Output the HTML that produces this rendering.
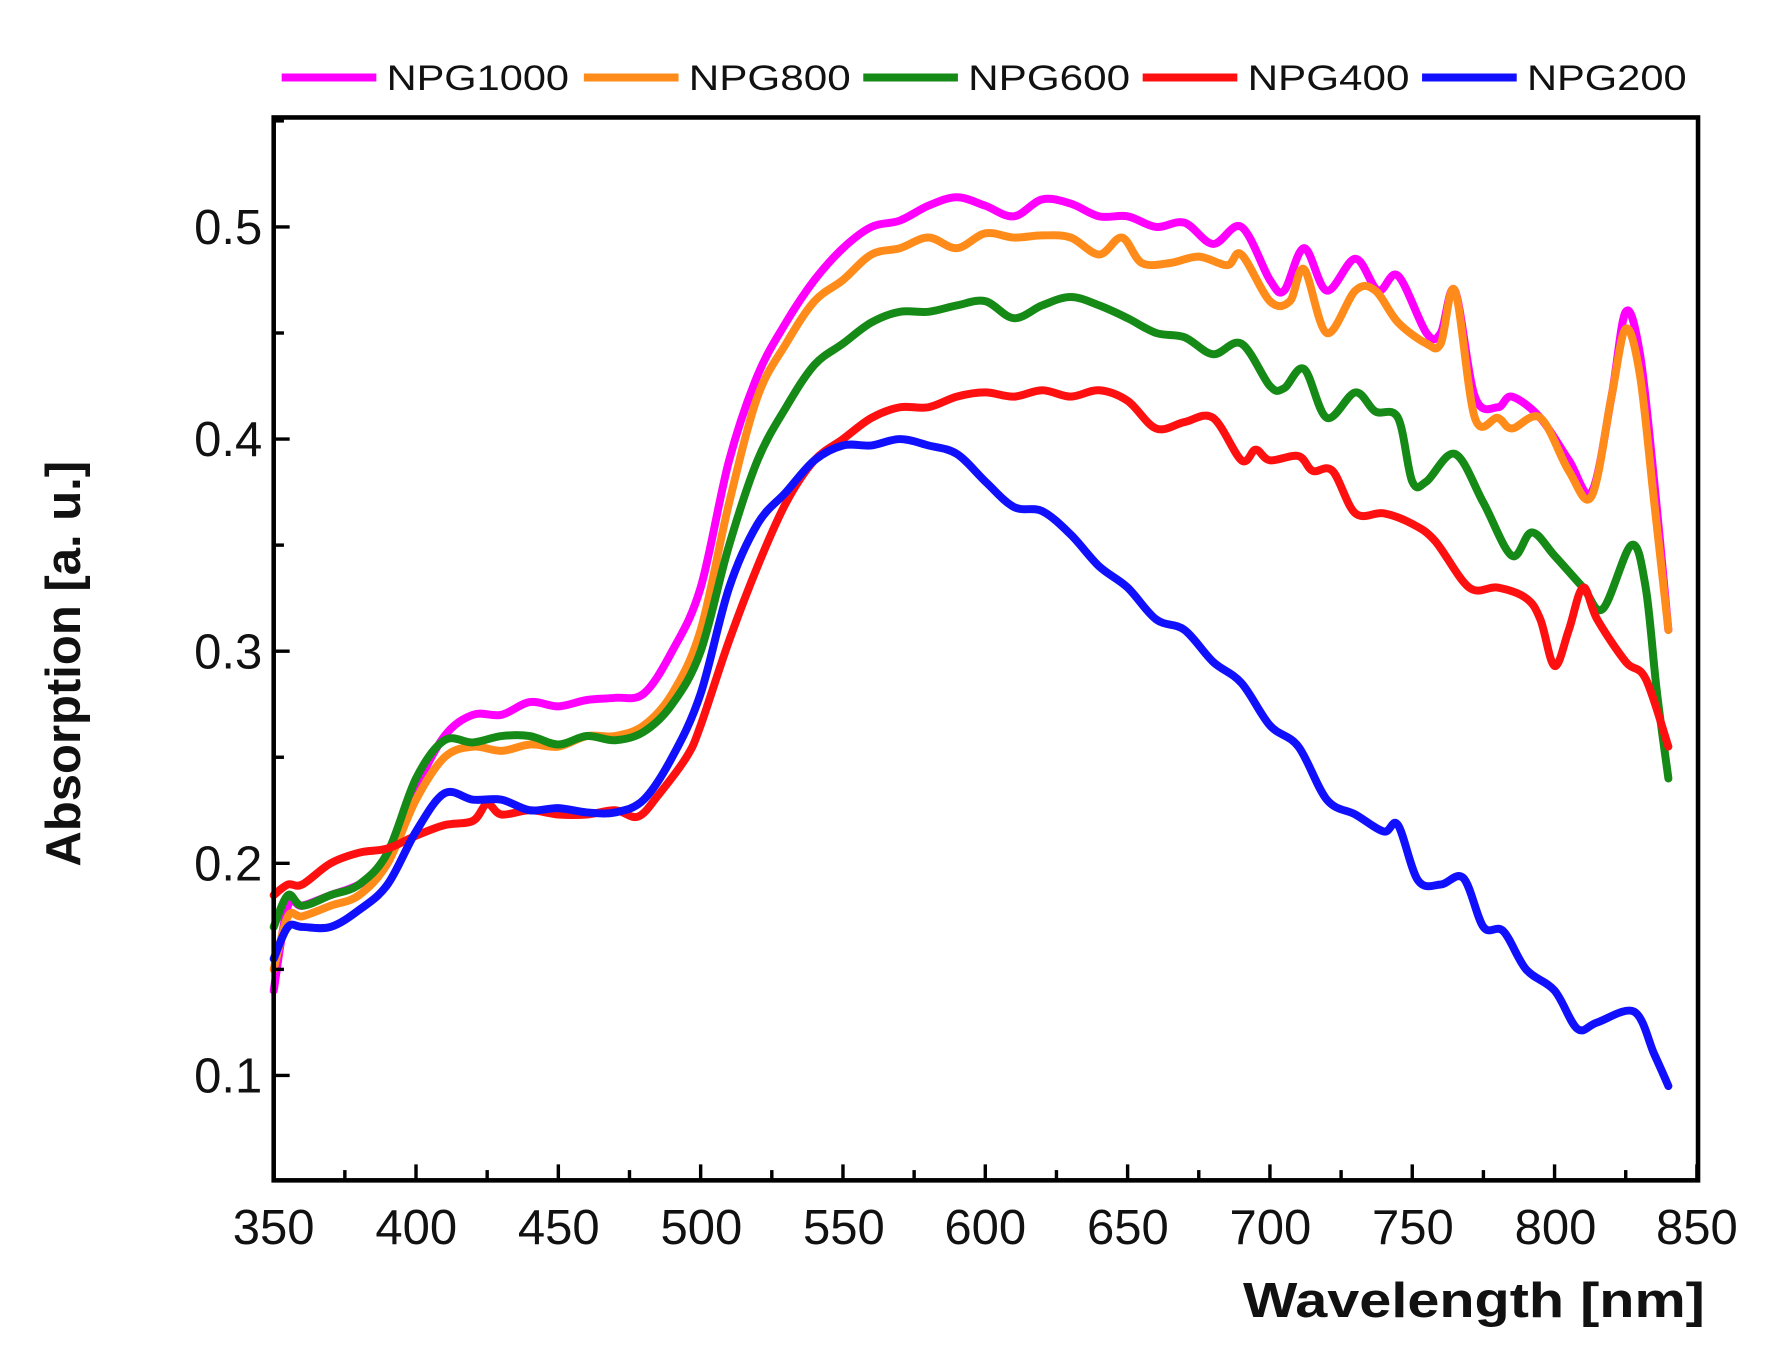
<!DOCTYPE html>
<html><head><style>html,body{margin:0;padding:0;background:#fff}svg{display:block}</style></head>
<body>
<svg id="s" width="1779" height="1370" viewBox="0 0 1560 1201.3" preserveAspectRatio="none" xmlns="http://www.w3.org/2000/svg" font-family="Liberation Sans, Arial, sans-serif">
<rect x="0" y="0" width="1560" height="1202" fill="#fff"/>
<g id="curves" fill="none" stroke-width="7" stroke-linejoin="round" stroke-linecap="round"></g>
<rect x="240" y="103" width="1249" height="932" fill="none" stroke="#000" stroke-width="4"/>
<g id="ticks" stroke="#000" stroke-width="3"></g>
<g font-size="43" fill="#111" text-anchor="middle">
<text x="240" y="1091">350</text><text x="365" y="1091">400</text><text x="490" y="1091">450</text><text x="615" y="1091">500</text><text x="740" y="1091">550</text><text x="864" y="1091">600</text><text x="989" y="1091">650</text><text x="1114" y="1091">700</text><text x="1239" y="1091">750</text><text x="1364" y="1091">800</text><text x="1488" y="1091">850</text>
</g>
<g font-size="43" fill="#111" text-anchor="end">
<text x="230" y="214">0.5</text><text x="230" y="400">0.4</text><text x="230" y="586">0.3</text><text x="230" y="772">0.2</text><text x="230" y="958">0.1</text>
</g>
<text x="1090" y="1155" font-size="43" font-weight="bold" fill="#111" textLength="405" lengthAdjust="spacingAndGlyphs">Wavelength [nm]</text>
<text transform="translate(70,582) rotate(-90)" font-size="43" font-weight="bold" text-anchor="middle" fill="#111">Absorption [a. u.]</text>
<g font-size="31" fill="#111">
<line x1="247" y1="68" x2="330" y2="68" stroke="#ff00ff" stroke-width="7"/><text x="339" y="79" textLength="160" lengthAdjust="spacingAndGlyphs">NPG1000</text>
<line x1="512" y1="68" x2="595" y2="68" stroke="#ff8c1a" stroke-width="7"/><text x="604" y="79" textLength="142" lengthAdjust="spacingAndGlyphs">NPG800</text>
<line x1="757" y1="68" x2="840" y2="68" stroke="#168a16" stroke-width="7"/><text x="849" y="79" textLength="142" lengthAdjust="spacingAndGlyphs">NPG600</text>
<line x1="1002" y1="68" x2="1085" y2="68" stroke="#ff1010" stroke-width="7"/><text x="1094" y="79" textLength="142" lengthAdjust="spacingAndGlyphs">NPG400</text>
<line x1="1247" y1="68" x2="1330" y2="68" stroke="#1010ff" stroke-width="7"/><text x="1339" y="79" textLength="140" lengthAdjust="spacingAndGlyphs">NPG200</text>
</g>
</svg>
<script>
var X=w=>240+(w-350)*2.496, Y=v=>943-(v-0.1)*1860;
var D={
"#ff00ff":[350,.14,355,.18,360,.18,370,.185,380,.19,390,.2,400,.235,410,.26,420,.27,430,.27,440,.276,450,.274,460,.277,470,.278,480,.28,490,.3,500,.33,510,.39,520,.43,530,.455,540,.475,550,.49,560,.5,570,.503,580,.51,590,.514,600,.51,610,.505,620,.513,630,.511,640,.505,650,.505,660,.5,670,.502,680,.492,690,.5,700,.475,705,.47,712,.49,720,.47,730,.485,738,.47,745,.477,755,.45,760,.45,765,.47,772,.42,780,.415,785,.42,795,.41,805,.39,813,.375,820,.42,825,.46,830,.44,835,.38,840,.31],
"#ff8c1a":[350,.15,355,.175,360,.175,370,.18,380,.185,390,.2,400,.23,410,.25,420,.255,430,.253,440,.256,450,.255,460,.26,470,.26,480,.265,490,.28,500,.31,510,.37,520,.42,530,.445,540,.465,550,.475,560,.487,570,.49,580,.495,590,.49,600,.497,610,.495,620,.496,630,.495,640,.487,648,.495,655,.483,665,.483,675,.486,685,.482,690,.487,700,.465,707,.465,712,.48,720,.45,730,.47,737,.47,745,.455,755,.445,760,.445,765,.47,772,.41,780,.41,785,.405,795,.41,805,.385,813,.373,820,.42,825,.452,830,.43,835,.37,840,.31],
"#168a16":[350,.17,355,.185,360,.18,370,.185,380,.19,390,.205,400,.24,410,.258,420,.257,430,.26,440,.26,450,.256,460,.26,470,.258,480,.262,490,.275,500,.3,510,.35,520,.39,530,.415,540,.435,550,.445,560,.455,570,.46,580,.46,590,.463,600,.465,610,.457,620,.463,630,.467,640,.463,650,.457,660,.45,670,.448,680,.44,690,.445,700,.425,705,.424,712,.433,720,.41,730,.422,737,.413,745,.41,750,.38,755,.38,765,.393,775,.37,785,.345,792,.356,800,.345,810,.33,817,.32,827,.35,832,.33,836,.28,840,.24],
"#ff1010":[350,.185,355,.19,360,.19,370,.2,380,.205,390,.207,400,.213,410,.218,420,.22,425,.228,430,.223,440,.225,450,.223,460,.223,470,.225,478,.222,485,.232,495,.25,500,.265,510,.305,520,.34,530,.37,540,.39,550,.4,560,.41,570,.415,580,.415,590,.42,600,.422,610,.42,620,.423,630,.42,640,.423,650,.418,660,.405,670,.408,680,.41,690,.39,695,.395,700,.39,710,.392,715,.385,722,.385,730,.365,740,.365,750,.36,758,.352,770,.33,780,.33,790,.325,795,.315,800,.293,805,.31,810,.33,815,.315,825,.295,832,.287,840,.255],
"#1010ff":[350,.155,355,.17,360,.17,370,.17,380,.178,390,.19,400,.215,410,.233,420,.23,430,.23,440,.225,450,.226,460,.224,470,.224,480,.23,490,.25,500,.28,510,.33,520,.36,530,.375,540,.39,550,.397,560,.397,570,.4,580,.397,590,.393,600,.38,610,.368,620,.366,630,.355,640,.34,650,.33,660,.315,670,.31,680,.295,690,.285,700,.265,710,.255,720,.23,730,.223,740,.215,745,.218,752,.192,760,.19,768,.193,775,.17,782,.168,790,.15,800,.14,808,.122,815,.125,828,.13,835,.11,840,.095]};
var g=document.getElementById('curves'),h='';
for(var c in D){var a=D[c],p=[];for(var i=0;i<a.length;i+=2)p.push([X(a[i]),Y(a[i+1])]);
var d='M'+p[0][0].toFixed(1)+','+p[0][1].toFixed(1);
for(var i=0;i<p.length-1;i++){var p0=p[i-1]||p[i],p1=p[i],p2=p[i+1],p3=p[i+2]||p2;
d+='C'+(p1[0]+(p2[0]-p0[0])/6).toFixed(1)+','+(p1[1]+(p2[1]-p0[1])/6).toFixed(1)+' '+(p2[0]-(p3[0]-p1[0])/6).toFixed(1)+','+(p2[1]-(p3[1]-p1[1])/6).toFixed(1)+' '+p2[0].toFixed(1)+','+p2[1].toFixed(1);}
h+='<path d="'+d+'" stroke="'+c+'"/>';}
g.innerHTML=h;
var t='';
for(var w=350;w<=850;w+=25){var x=X(w),L=(w%50==0)?14:9;t+='<line x1="'+x+'" y1="1035" x2="'+x+'" y2="'+(1035-L)+'"/>';}
for(var v=0.1;v<=0.551;v+=0.05){var y=Y(v),L=(Math.round(v*100)%10==0)?14:9;t+='<line x1="240" y1="'+y+'" x2="'+(240+L)+'" y2="'+y+'"/>';}
document.getElementById('ticks').innerHTML=t;
</script>
</body></html>
